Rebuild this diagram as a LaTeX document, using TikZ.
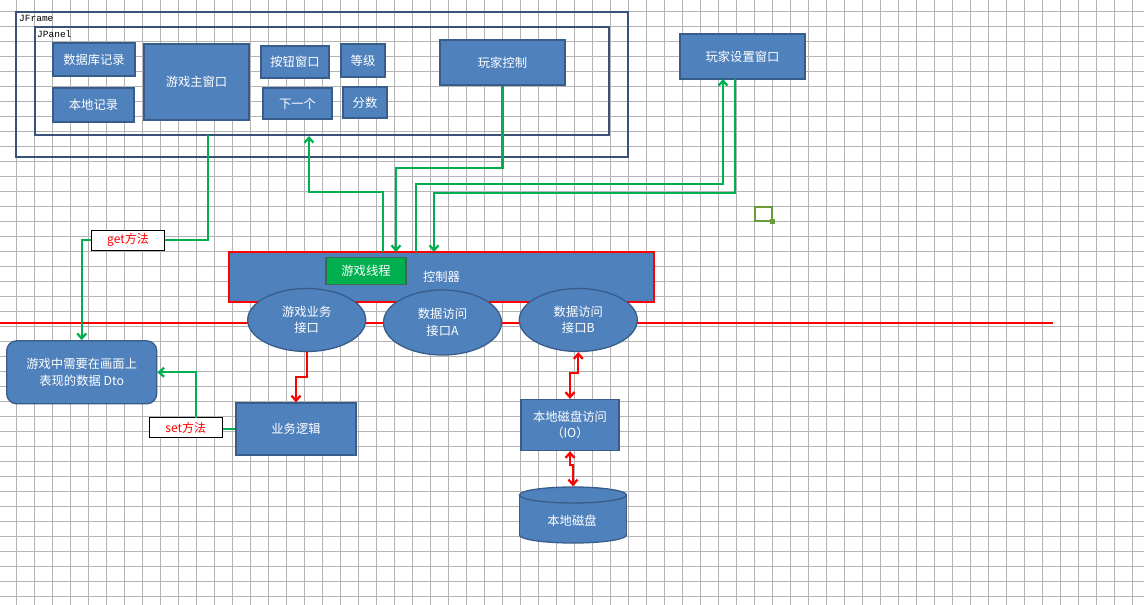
\documentclass[tikz,border=0pt]{standalone}
\usepackage{fontspec}
\newfontfamily\cjk{Noto Sans CJK SC}
\newfontfamily\monof{Liberation Mono}
\usetikzlibrary{arrows.meta,shapes.geometric}
\definecolor{boxblue}{HTML}{4F81BD}
\definecolor{boxedge}{HTML}{385D8A}
\definecolor{frameedge}{HTML}{3B5278}
\definecolor{gline}{HTML}{00B050}
\definecolor{rline}{HTML}{FF0000}
\definecolor{gridc}{HTML}{B4B4B4}
\definecolor{selgreen}{HTML}{6A9B3A}
\definecolor{threadedge}{HTML}{3A6B50}
\begin{document}
\begin{tikzpicture}[x=1pt,y=-1pt,
  box/.style={draw=boxedge, fill=boxblue, line width=1.3pt, text=white, inner sep=0pt,
    font=\cjk\fontsize{12.3}{16.5}\selectfont, align=center},
  ell/.style={box, ellipse},
  frame/.style={draw=frameedge, line width=1.8pt, inner sep=0pt},
  framelbl/.style={anchor=north west, inner sep=0pt, font=\monof\fontsize{9.5}{10}\selectfont},
  methodlbl/.style={draw=black, fill=white, line width=0.8pt, text=red, inner sep=0pt,
    font=\cjk\fontsize{12}{14}\selectfont, minimum width=73pt, minimum height=20pt},
  barb/.tip={Straight Barb[length=5pt,width=9pt]},
  gconn/.style={draw=gline, line width=2.3pt, -barb},
  gplain/.style={draw=gline, line width=2.3pt},
  rconn/.style={draw=rline, line width=2.3pt, -barb},
  rboth/.style={draw=rline, line width=2.3pt, barb-barb},
]
\useasboundingbox (0,0) rectangle (1144,605);
\fill[white] (0,0) rectangle (1144,605);
% grid
\foreach \i in {0,...,62} \draw[gridc, line width=0.8pt] ({16+18*\i},0) -- ({16+18*\i},605);
\foreach \j in {0,...,39} \draw[gridc, line width=0.8pt] (0,{11.7+15*\j}) -- (1144,{11.7+15*\j});
% red boundary line
\coordinate (rl0) at (0,323);
\coordinate (rl1) at (1053,323);
\draw[rline, line width=2pt] (rl0) -- (rl1);
% frames
\node[frame, minimum width=612pt, minimum height=145pt] (jframe) at (322,84.5) {};
\node[framelbl] (jframelbl) at (19,15.5) {JFrame};
\node[frame, minimum width=574pt, minimum height=108pt] (jpanel) at (322,81) {};
\node[framelbl] (jpanellbl) at (37,30) {JPanel};
% top boxes
\node[box, minimum width=82pt, minimum height=33pt] (dbrec) at (94,59.5) {数据库记录};
\node[box, minimum width=81pt, minimum height=34pt] (localrec) at (93.5,105) {本地记录};
\node[box, minimum width=105pt, minimum height=76pt] (mainwin) at (196.5,82) {游戏主窗口};
\node[box, minimum width=68pt, minimum height=32pt] (btnwin) at (295,62) {按钮窗口};
\node[box, minimum width=69pt, minimum height=31pt] (nextone) at (297.5,103.5) {下一个};
\node[box, minimum width=44pt, minimum height=33pt] (level) at (363,60.5) {等级};
\node[box, minimum width=44pt, minimum height=31pt] (score) at (365,102.5) {分数};
\node[box, minimum width=125pt, minimum height=45pt] (player) at (502.5,62.5) {玩家控制};
\node[box, minimum width=125pt, minimum height=45pt] (settings) at (742.5,56.5) {玩家设置窗口};
% controller
\node[box, draw=rline, line width=2pt, minimum width=425pt, minimum height=50pt] (ctrl) at (441.5,277) {控制器};
\node[box, draw=threadedge, fill=gline, minimum width=80pt, minimum height=27pt] (thread) at (366,271) {游戏线程};
\node[ell, minimum width=118pt, minimum height=63pt] (ifc1) at (306.7,320) {游戏业务\\接口};
\node[ell, minimum width=118pt, minimum height=65pt] (ifcA) at (442.5,322.5) {数据访问\\接口A};
\node[ell, minimum width=118pt, minimum height=63pt] (ifcB) at (578.3,320) {数据访问\\接口B};
% lower boxes
\node[box, rounded corners=10pt, minimum width=150pt, minimum height=63pt] (dto) at (81.7,372.3) {游戏中需要在画面上\\表现的数据 Dto};
\node[box, minimum width=120pt, minimum height=52pt] (logic) at (296,429) {业务逻辑};
\node[box, minimum width=98pt, minimum height=51pt] (io) at (570,425) {本地磁盘访问\\（IO）};
% cylinder (local disk)
\fill[boxblue, draw=boxedge, line width=1.3pt] (573,535) ellipse (53.5pt and 8pt);
\fill[boxblue] (519.5,495) rectangle (626.5,535);
\draw[boxedge, line width=1.3pt] (519.5,495) -- (519.5,535);
\draw[boxedge, line width=1.3pt] (626.5,495) -- (626.5,535);
\filldraw[fill=boxblue, draw=boxedge, line width=1.3pt] (573,495) ellipse (53.5pt and 8pt);
\node[inner sep=0pt, minimum width=107pt, minimum height=57pt] (disk) at (573,515) {};
\node[text=white, inner sep=0pt, font=\cjk\fontsize{12.3}{16.5}\selectfont] (disklbl) at (572,521) {本地磁盘};
% method labels
\node[methodlbl] (getlbl) at (128,240) {get方法};
\node[methodlbl] (setlbl) at (185.8,427.5) {set方法};
% green connectors
\coordinate (g1s) at (208,135);
\draw[gplain] (g1s) |- (getlbl.east);
\draw[gconn] (getlbl.west) -| (dto.north);
\coordinate (g2s) at (383,252);
\coordinate (g2m) at (383,192);
\coordinate (g2e) at (309,136);
\draw[gconn] (g2s) -- (g2m) -| (g2e);
\coordinate (g3e) at (396,252);
\draw[gconn] (player.south) -- ++(0,82.5) -| (g3e);
\coordinate (g4s) at (416,252);
\coordinate (g4m) at (416,184);
\coordinate (g4e) at (723,79);
\draw[gconn] (g4s) -- (g4m) -| (g4e);
\coordinate (g5s) at (735,79);
\coordinate (g5m) at (735,193);
\coordinate (g5e) at (434,252);
\draw[gconn] (g5s) -- (g5m) -| (g5e);
\draw[gplain] (logic.west) -- (logic.west -| setlbl.east);
\coordinate (s1) at (196,417.5);
\draw[gconn] (s1) |- (dto.east);
% red connectors
\draw[rconn] (ifc1.south) -- ++(0,25) -| (logic.north);
\draw[rboth] (ifcB.south) -- ++(0,21) -| (io.north);
\draw[rboth] (io.south) -- ++(0,14) -| (disk.north);
% selection marker
\draw[selgreen, line width=2.8pt] (755,207) rectangle (772,221);
\fill[selgreen] (769.5,218.5) rectangle (774.5,223.5);
\end{tikzpicture}
\end{document}
